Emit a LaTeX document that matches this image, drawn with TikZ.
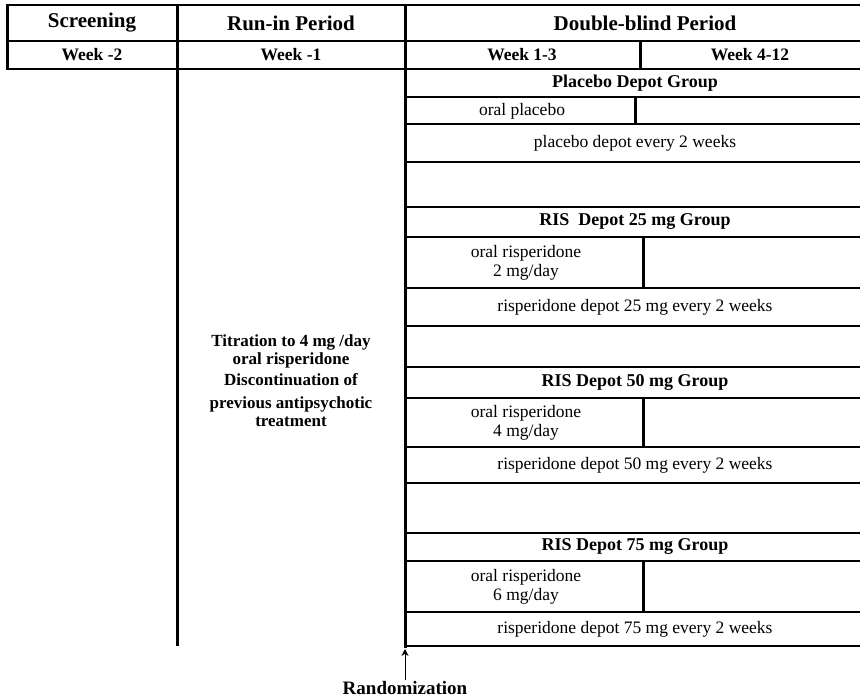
\documentclass[tikz,border=0pt]{standalone}
\usepackage{fontspec}
\setmainfont{Liberation Serif}
\usetikzlibrary{
    arrows.meta,
    positioning
}
\tikzset{
  hdr/.style   = {font=\fontsize{21}{23}\selectfont\bfseries, inner sep=1pt},
  wk/.style    = {font=\fontsize{17.5}{19}\selectfont\bfseries, inner sep=1pt},
  grp/.style   = {font=\fontsize{18}{20}\selectfont\bfseries, inner sep=1pt},
  cell/.style  = {font=\fontsize{17.5}{19}\selectfont, align=center, inner sep=1pt},
  rule/.style  = {line width=2.4pt},
  vrule/.style = {line width=3pt}
}

\begin{document}
\begin{tikzpicture}[
  x=1pt, y=-1pt,
  note/.style={font=\fontsize{17}{18}\selectfont\bfseries, align=center, inner sep=1pt},
  rlbl/.style={font=\fontsize{19}{21}\selectfont\bfseries, inner sep=1pt},
  arr/.style={-{Stealth[length=7pt,width=7pt]}, line width=1pt}
]
\useasboundingbox (0,0) rectangle (860,700);

%% Header frame
\draw[rule] (6,5) -- (860,5);
\draw[rule] (6,41) -- (860,41);
\draw[rule] (6,69) -- (860,69);
\draw[vrule] (7,4) -- (7,70);
\draw[vrule] (640,41) -- (640,69);

%% Period columns
\draw[vrule] (177,4) -- (177,646);
\draw[vrule] (405,4) -- (405,648);

\node[hdr] (scr) at (92,23)  {Screening};
\node[hdr] (run) at (291,23) {Run-in Period};
\node[hdr] (dbp) at (645,23) {Double-blind Period};
\node[wk]  (w2)  at (92,55)  {Week -2};
\node[wk]  (w1)  at (291,55) {Week -1};
\node[wk]  (w13) at (522,55) {Week 1-3};
\node[wk]  (w412) at (750,55) {Week 4-12};

%% Group rows
\foreach \y in {97,124,162,207,237,288,326,367,398,447,483,533,561,612,646}
  \draw[rule] (404,\y) -- (860,\y);
\draw[vrule] (635,97) -- (635,124);
\draw[vrule] (643,237) -- (643,288);
\draw[vrule] (643,398) -- (643,447);
\draw[vrule] (643,561) -- (643,612);

%% Placebo
\node[grp]  (pg)  at (635,83)  {Placebo Depot Group};
\node[cell] (po)  at (522,111) {oral placebo};
\node[cell] (pd)  at (635,143) {placebo depot every 2 weeks};

%% 25 mg
\node[grp]  (g25) at (635,222) {RIS\ \ Depot 25 mg Group};
\node[cell] (o25) at (526,263) {oral risperidone\\2 mg/day};
\node[cell] (d25) at (635,307) {risperidone depot 25 mg every 2 weeks};

%% 50 mg
\node[grp]  (g50) at (635,383) {RIS Depot 50 mg Group};
\node[cell] (o50) at (526,423) {oral risperidone\\4 mg/day};
\node[cell] (d50) at (635,465) {risperidone depot 50 mg every 2 weeks};

%% 75 mg
\node[grp]  (g75) at (635,547) {RIS Depot 75 mg Group};
\node[cell] (o75) at (526,587) {oral risperidone\\6 mg/day};
\node[cell] (d75) at (635,629) {risperidone depot 75 mg every 2 weeks};

%% Run-in treatment
\node[note] (tit) at (291,381) {Titration to 4 mg /day\\oral risperidone\\[3pt]
  Discontinuation of\\[5pt]previous antipsychotic\\treatment};

%% Randomization
\coordinate (rnd) at (405,649);
\node[rlbl] (rand) at (405,688) {Randomization};
\draw[arr] (rand.north) -- (rnd);

\end{tikzpicture}
\end{document}
